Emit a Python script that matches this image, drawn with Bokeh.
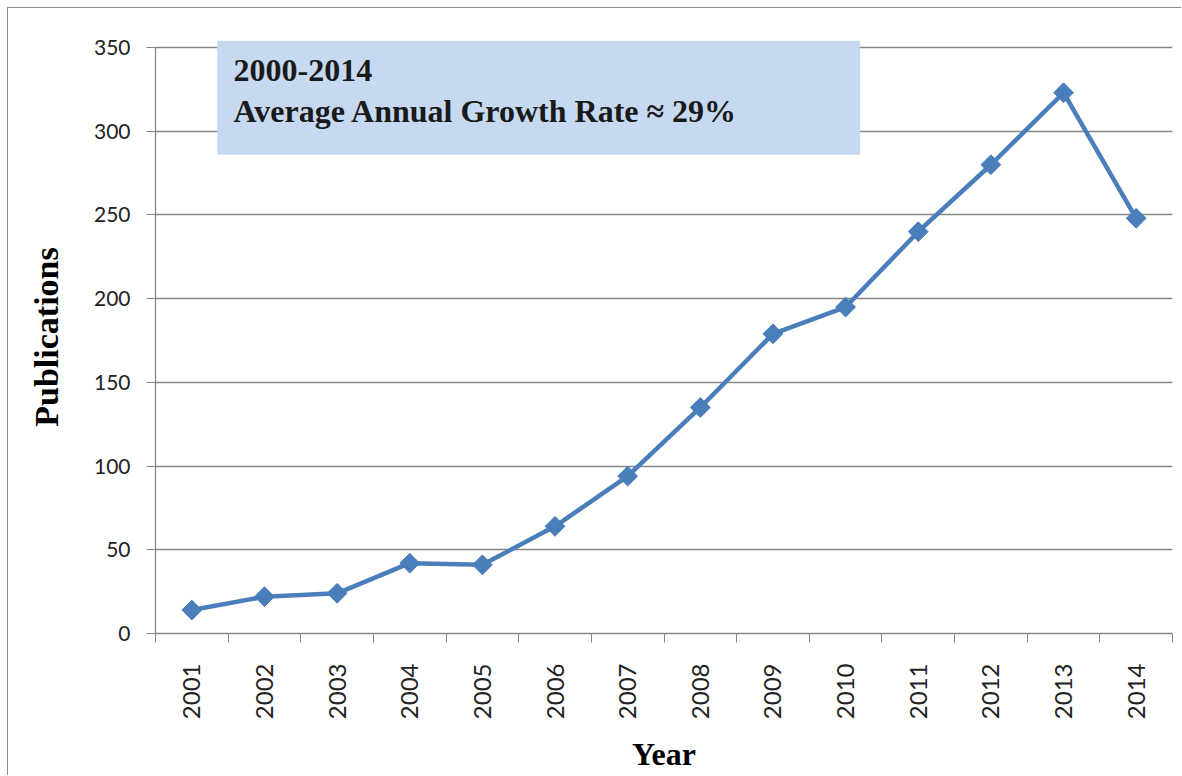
import math
from bokeh.plotting import figure
from bokeh.models import (ColumnDataSource, FixedTicker, BoxAnnotation, Label,
                          CustomJSTickFormatter)
from bokeh.embed import file_html
from bokeh.resources import INLINE

# ---- data ----
years = [2001, 2002, 2003, 2004, 2005, 2006, 2007,
         2008, 2009, 2010, 2011, 2012, 2013, 2014]
publications = [14, 22, 24, 42, 41, 64, 94, 135, 179, 195, 240, 280, 323, 248]
y_ticks = [0, 50, 100, 150, 200, 250, 300, 350]
box_title = "2000-2014"
box_text = "Average Annual Growth Rate \u2248 29%"

src = ColumnDataSource(dict(x=years, y=publications))

boundaries = [y - 0.5 for y in years] + [years[-1] + 0.5]

p = figure(width=1174, height=768,
           x_range=(years[0] - 0.5, years[-1] + 0.5),
           y_range=(0, 354.2),
           output_backend="svg", toolbar_location=None,
           min_border_left=147, min_border_right=10,
           min_border_top=32, min_border_bottom=143)
p.styles = {"border-left": "1px solid #8c8c8c", "border-top": "1px solid #8c8c8c",
            "margin-left": "7px", "margin-top": "7px"}
p.outline_line_color = None
p.background_fill_color = "white"
p.border_fill_color = "white"

grey = "#868686"

# grids
p.xgrid.grid_line_color = None
p.ygrid.ticker = FixedTicker(ticks=y_ticks)
p.ygrid.grid_line_color = grey
p.ygrid.grid_line_width = 1.3
p.ygrid.bounds = (0, 350)

# y axis
ya = p.yaxis[0]
ya.ticker = FixedTicker(ticks=y_ticks)
ya.bounds = (0, 350)
ya.axis_line_color = grey
ya.axis_line_width = 1.3
ya.major_tick_line_color = grey
ya.major_tick_out = 9
ya.major_tick_in = 0
ya.minor_tick_line_color = None
ya.major_label_standoff = 16
ya.major_label_text_font = "Lato"
ya.major_label_text_font_size = "21px"
ya.major_label_text_color = "#222222"
ya.axis_label = "Publications"
ya.axis_label_text_font = "Liberation Serif"
ya.axis_label_text_font_style = "bold"
ya.axis_label_text_font_size = "34px"
ya.axis_label_text_color = "black"
ya.axis_label_standoff = 26

# x axis
xa = p.xaxis[0]
xa.ticker = FixedTicker(ticks=years, minor_ticks=boundaries)
xa.axis_line_color = grey
xa.axis_line_width = 1.3
xa.major_tick_out = 0
xa.major_tick_in = 0
xa.minor_tick_line_color = grey
xa.minor_tick_out = 9
xa.minor_tick_in = 0
xa.major_label_orientation = math.pi / 2
xa.major_label_standoff = 21
xa.major_label_text_font = "Lato"
xa.major_label_text_font_size = "24px"
xa.major_label_text_color = "#222222"
xa.formatter = CustomJSTickFormatter(code="return tick.toFixed(0);")
xa.axis_label = "Year"
xa.axis_label_text_font = "Liberation Serif"
xa.axis_label_text_font_style = "bold"
xa.axis_label_text_font_size = "32px"
xa.axis_label_text_color = "black"
xa.axis_label_standoff = 14

# series
p.line("x", "y", source=src, line_color="#4A7EBB", line_width=4.5)
p.scatter("x", "y", source=src, marker="square", size=14, angle=math.pi / 4,
          fill_color="#4A7EBB", line_color="#4A7EBB")

# annotation box
box = BoxAnnotation(left=2001.35, right=2010.2, bottom=286, top=354.2,
                    fill_color="#C6D9F1", fill_alpha=1.0, line_color=None)
p.add_layout(box)
p.add_layout(Label(x=78, y=563, x_units="screen", y_units="screen",
                   text=box_title, text_font="Liberation Serif",
                   text_font_style="bold", text_font_size="32px",
                   text_color="#1a1a1a", text_baseline="alphabetic"))
p.add_layout(Label(x=78, y=523, x_units="screen", y_units="screen",
                   text=box_text, text_font="Liberation Serif",
                   text_font_style="bold", text_font_size="32px",
                   text_color="#1a1a1a", text_baseline="alphabetic"))

open("out.html", "w").write(file_html(p, INLINE))
